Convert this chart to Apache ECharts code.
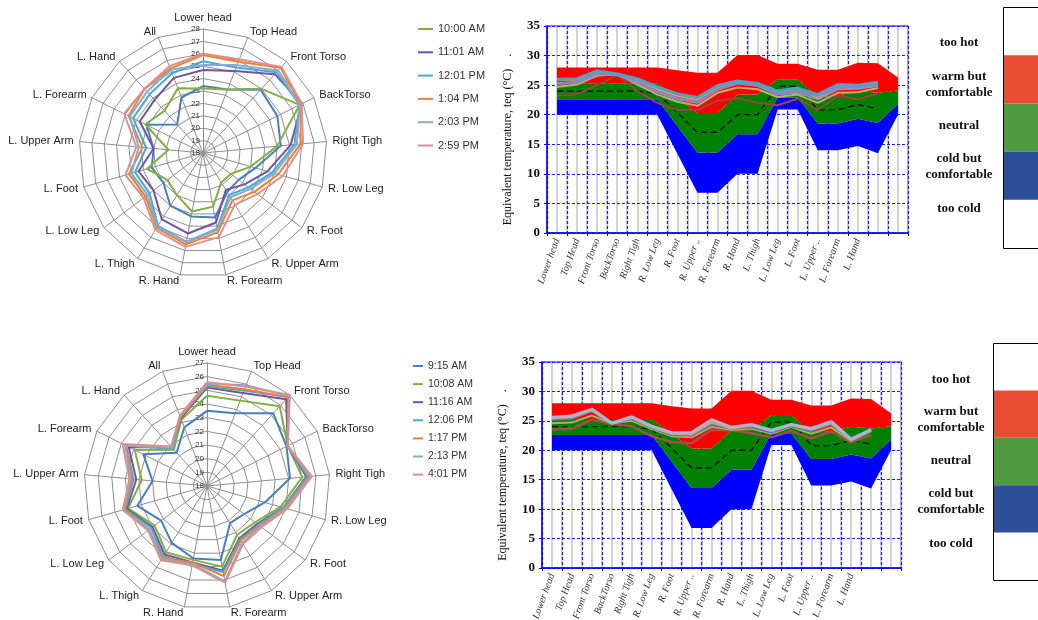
<!DOCTYPE html>
<html>
<head>
<meta charset="utf-8">
<script src="https://cdn.jsdelivr.net/npm/echarts@6/dist/echarts.min.js"></script>
<style>html,body{margin:0;padding:0;background:#fff}#c{width:1038px;height:620px}</style>
</head>
<body>
<div id="c"></div>
<script>
// ---------- data ----------
const bodyParts = ['Lower head','Top Head','Front Torso','BackTorso','Right Tigh','R. Low Leg','R. Foot','R. Upper Arm','R. Forearm','R. Hand','L. Thigh','L. Low Leg','L. Foot','L. Upper Arm','L. Forearm','L. Hand','All'];
const areaLabels = ['Lower head','Top Head','Front Torso','BackTorso','Right Tigh','R. Low Leg','R. Foot','R. Upper ..','R. Forearm','R. Hand','L. Thigh','L. Low Leg','L. Foot','L. Upper ..','L. Forearm','L. Hand','',''];
const radarTicksTop = [18, 28];
const radarTicksBottom = [18, 27];

// top set
const topNames = ['9:00 AM','10:00 AM','11:01 AM','12:01 PM','1:04 PM','2:03 PM','2:59 PM'];
const top0900 = [23.4, 23.5, 24.9, 24.7, 24.3, 22.4, 21.6, 21.7, 23.3, 23.2, 23.0, 22.0, 22.3, 22.0, 23.1, 21.1, 22.8];
const top1000 = [23.2, 23.5, 25.0, 26.7, 24.0, 22.0, 20.8, 20.8, 22.4, 22.8, 22.0, 21.6, 22.7, 20.8, 23.2, 22.6, 23.6];
const top1101 = [24.7, 25.1, 26.6, 26.9, 25.1, 23.4, 22.2, 21.5, 23.7, 24.6, 24.3, 23.0, 23.4, 22.0, 23.7, 23.8, 24.5];
const top1201 = [25.4, 25.4, 26.8, 26.7, 25.4, 23.8, 22.6, 22.0, 24.2, 25.3, 24.9, 23.4, 23.7, 22.6, 24.3, 24.4, 24.9];
const top0104 = [25.9, 25.9, 27.3, 26.8, 25.9, 24.3, 23.2, 22.5, 24.5, 25.5, 25.1, 23.8, 24.2, 22.9, 24.7, 25.0, 25.3];
const top0203 = [25.1, 25.6, 27.0, 26.7, 25.6, 24.0, 22.8, 22.2, 24.3, 25.3, 25.0, 23.6, 24.0, 23.2, 24.6, 24.7, 25.2];
const top0259 = [26.0, 26.1, 27.4, 26.9, 26.1, 24.7, 23.5, 22.9, 24.9, 25.7, 25.3, 24.0, 24.5, 23.4, 25.1, 25.0, 25.5];

// bottom set
const botNames = ['9:15 AM','10:08 AM','11:16 AM','12:06 PM','1:17 PM','2:13 PM','4:01 PM'];
const bot0915 = [23.5, 23.7, 25.2, 24.5, 24.1, 22.4, 21.4, 21.2, 23.5, 23.4, 22.9, 22.2, 23.3, 22.0, 23.2, 21.3, 22.6];
const bot1008 = [24.6, 24.7, 25.9, 24.6, 25.0, 23.6, 22.4, 22.2, 24.0, 23.5, 23.7, 22.8, 24.0, 22.8, 23.9, 21.6, 23.2];
const bot1116 = [25.2, 25.3, 26.6, 24.6, 25.3, 23.8, 22.6, 22.5, 24.3, 23.7, 23.9, 23.0, 24.1, 23.2, 24.4, 21.8, 23.3];
const bot1206 = [25.3, 25.5, 26.8, 24.6, 25.4, 23.8, 22.7, 22.6, 24.4, 23.8, 24.1, 23.1, 24.2, 23.4, 24.6, 21.7, 23.4];
const bot0117 = [25.4, 25.6, 26.8, 24.6, 25.5, 23.9, 22.8, 22.7, 24.7, 23.7, 24.2, 23.3, 24.3, 23.5, 24.6, 21.8, 23.4];
const bot0213 = [25.5, 25.9, 26.9, 24.6, 25.6, 24.0, 22.9, 22.9, 25.1, 23.8, 24.3, 23.3, 24.4, 23.6, 24.7, 21.8, 23.5];
const bot0401 = [25.6, 25.8, 27.0, 24.6, 25.7, 24.1, 23.0, 23.0, 25.2, 23.9, 24.4, 23.4, 24.4, 23.7, 24.9, 21.9, 23.5];

// comfort zone boundaries (18 points)
const coldLow     = [20, 20, 20, 20, 20, 20, 13.4, 6.8, 6.8, 10, 10, 20.9, 20.9, 14.0, 14.0, 14.7, 13.5, 20.0];
const neutralLow  = [22.6, 22.6, 22.6, 22.6, 22.6, 22.6, 18.1, 13.6, 13.6, 16.7, 16.7, 22.9, 22.9, 18.5, 18.5, 19.3, 18.6, 21.8];
const neutralHigh = [25.3, 25.3, 25.3, 25.3, 25.3, 25.3, 22.8, 20.3, 20.3, 23.4, 23.4, 26.0, 26.0, 23.0, 23.2, 24.0, 23.7, 24.1];
const warmHigh    = [28.0, 28.0, 28.0, 28.0, 28.0, 28.0, 27.5, 27.1, 27.1, 30.1, 30.1, 28.6, 28.6, 27.6, 27.6, 28.8, 28.7, 26.3];
const neutralMid  = [24.0, 24.0, 24.0, 24.0, 24.0, 23.6, 20.4, 17.0, 17.0, 20.0, 20.0, 24.8, 24.8, 20.8, 20.8, 21.7, 21.0];

const zoneLabels = ['too hot','warm but\ncomfortable','neutral','cold but\ncomfortable','too cold'];

// ---------- build ----------
const radarColors = ['#4A7EBB','#80B040','#7153A0','#40AECC','#F08030','#87A9D6','#DB9090'];
const topVals = [top0900, top1000, top1101, top1201, top0104, top0203, top0259];
const botVals = [bot0915, bot1008, bot1116, bot1206, bot0117, bot0213, bot0401];

// clockwise order from the top
const order = [0].concat(Array.from({length: bodyParts.length - 1}, (_, i) => bodyParts.length - 1 - i));
const reorder = v => order.map(i => v[i]);

function indicators(rng) {
  return order.map(i => ({name: bodyParts[i], min: rng[0], max: rng[1]}));
}
function radarCfg(center, radius, rng) {
  return {
    center: center, radius: radius, startAngle: 90, shape: 'polygon',
    splitNumber: rng[1] - rng[0],
    indicator: indicators(rng),
    nameGap: 6,
    axisName: {color: '#222', fontSize: 11, fontFamily: 'Liberation Sans'},
    splitLine: {lineStyle: {color: '#8f8f8f', width: 1}},
    splitArea: {show: false},
    axisLine: {lineStyle: {color: '#8f8f8f', width: 1}},
    axisTick: {show: false},
    axisLabel: {show: false}
  };
}
function radarSeries(idx, names, vals) {
  return {
    type: 'radar', radarIndex: idx, symbol: 'none', silent: true,
    data: names.map((n, j) => ({
      name: n, value: reorder(vals[j]),
      lineStyle: {color: radarColors[j], width: 2},
      itemStyle: {color: radarColors[j]}
    }))
  };
}

const diff = (a, b) => a.map((v, i) => +(v - b[i]).toFixed(2));
function zoneSeries(xi, yi, stackId) {
  const base = {type: 'line', xAxisIndex: xi, yAxisIndex: yi, stack: stackId, symbol: 'none', silent: true, lineStyle: {width: 0}, z: 2};
  return [
    Object.assign({}, base, {name: 'z-base' + stackId, data: coldLow}),
    Object.assign({}, base, {name: 'z-cold' + stackId, data: diff(neutralLow, coldLow), areaStyle: {color: '#0000FF', opacity: 1}}),
    Object.assign({}, base, {name: 'z-neutral' + stackId, data: diff(neutralHigh, neutralLow), areaStyle: {color: '#008000', opacity: 1}}),
    Object.assign({}, base, {name: 'z-warm' + stackId, data: diff(warmHigh, neutralHigh), areaStyle: {color: '#FF0000', opacity: 1}}),
    {type: 'line', name: 'z-mid' + stackId, xAxisIndex: xi, yAxisIndex: yi, data: neutralMid, symbol: 'none', silent: true, z: 3,
     lineStyle: {color: '#000', width: 1.2, type: [6, 4]}}
  ];
}
function lineSeries(xi, yi, names, vals, colors, widths) {
  return names.map((n, j) => ({
    type: 'line', name: 'line ' + n, xAxisIndex: xi, yAxisIndex: yi, data: vals[j], symbol: 'none', silent: true, z: 4,
    lineStyle: {color: colors[j], width: widths[j]}, itemStyle: {color: colors[j]}
  }));
}

const serif = 'Liberation Serif';
function mainX(gi) {
  return {
    type: 'category', gridIndex: gi, data: areaLabels, boundaryGap: true, z: 1,
    axisLine: {lineStyle: {color: '#0000FF', width: 1.5}},
    axisTick: {show: true, interval: 0, length: 3, lineStyle: {color: '#0000FF'}},
    axisLabel: {interval: 0, rotate: 70, margin: 6, fontSize: 10, fontStyle: 'italic', fontFamily: serif, color: '#333'},
    splitLine: {show: true, interval: 0, lineStyle: {color: '#1a1aff', width: 1.2, type: [3, 2]}}
  };
}
function greyX(gi) {
  return {
    type: 'category', gridIndex: gi, data: Array.from({length: 36}, (_, i) => String(i)), boundaryGap: true, z: 0,
    position: 'bottom',
    axisLine: {show: false}, axisTick: {show: false}, axisLabel: {show: false},
    splitLine: {show: true, interval: 0, lineStyle: {color: '#c8c8c8', width: 1.6}}
  };
}
function mainY(gi, nameStr) {
  return {
    type: 'value', gridIndex: gi, min: 0, max: 35, interval: 5, z: 1,
    name: nameStr, nameLocation: 'middle', nameGap: 33,
    nameTextStyle: {fontFamily: serif, fontSize: 12, color: '#111', padding: [0, 20, 0, 0]},
    axisLine: {show: true, lineStyle: {color: '#0000FF', width: 1.5}},
    axisTick: {show: true, length: 3, lineStyle: {color: '#0000FF'}},
    axisLabel: {fontFamily: serif, fontWeight: 'bold', fontSize: 13, color: '#111', margin: 7},
    splitLine: {show: true, lineStyle: {color: '#1a1aff', width: 1.2, type: [3, 2]}}
  };
}
function tickY(gi, rng) {
  return {
    type: 'value', gridIndex: gi, min: rng[0], max: rng[1], interval: 1,
    axisLine: {show: false}, axisTick: {show: false}, splitLine: {show: false},
    axisLabel: {fontSize: 8, color: '#333', margin: 3, fontFamily: 'Liberation Sans'}
  };
}

const yName = 'Equivalent temperature, teq (°C)    .';

const option = {
  animation: false,
  backgroundColor: '#fff',
  radar: [radarCfg([203, 153], 124, radarTicksTop), radarCfg([207, 486], 123, radarTicksBottom)],
  grid: [
    {left: 203, top: 29, width: 1, height: 124, outerBoundsMode: 'none'},
    {left: 207, top: 363, width: 1, height: 123, outerBoundsMode: 'none'},
    {left: 547, top: 26, width: 361, height: 207, show: true, borderColor: '#0000FF', borderWidth: 1.2, backgroundColor: 'transparent', outerBoundsMode: 'none'},
    {left: 542, top: 362, width: 359, height: 206, show: true, borderColor: '#0000FF', borderWidth: 1.2, backgroundColor: 'transparent', outerBoundsMode: 'none'}
  ],
  xAxis: [
    {type: 'value', gridIndex: 0, show: false},
    {type: 'value', gridIndex: 1, show: false},
    mainX(2), greyX(2), mainX(3), greyX(3)
  ],
  yAxis: [tickY(0, radarTicksTop), tickY(1, radarTicksBottom), mainY(2, yName), mainY(3, yName)],
  legend: [
    {orient: 'vertical', left: 413, top: 17, data: topNames.slice(1), icon: 'rect', itemWidth: 15, itemHeight: 2, itemGap: 9.3,
     textStyle: {fontSize: 11, lineHeight: 14, color: '#333', fontFamily: 'Liberation Sans'}, selectedMode: false},
    {orient: 'vertical', left: 408, top: 355, data: botNames, icon: 'rect', itemWidth: 10, itemHeight: 2, itemGap: 6.1,
     textStyle: {fontSize: 10.5, lineHeight: 12, color: '#333', fontFamily: 'Liberation Sans'}, selectedMode: false}
  ],
  series: [
    radarSeries(0, topNames, topVals),
    radarSeries(1, botNames, botVals)
  ]
  .concat(zoneSeries(2, 2, 'top'))
  .concat(lineSeries(2, 2, topNames.slice(1), topVals.slice(1),
      ['#9B4543','#C9A96A','#7F9CCB','#F39A4B','#9184BC','#4FA2C4'], [2, 2, 2, 2, 2.5, 3]))
  .concat(zoneSeries(4, 3, 'bot'))
  .concat(lineSeries(4, 3, botNames, botVals,
      ['#A04F4C','#9BBB59','#8064A2','#4F81BD','#F79646','#D99694','#A6B7D4'], [2.5, 2, 2, 2, 2, 2.5, 3])),
  graphic: []
};

// right-hand comfort legends
function comfortBox(x0, y0, h, labelX, labelYs) {
  const els = [];
  const seg = h / 5;
  const cols = [null, '#E94B33', '#4E9B42', '#2E4E9A', null];
  cols.forEach((c, i) => {
    if (c) els.push({type: 'rect', shape: {x: x0 + 1, y: y0 + seg * i, width: 60, height: seg}, style: {fill: c}, silent: true});
  });
  els.push({type: 'rect', shape: {x: x0 + 0.5, y: y0 + 0.5, width: 80, height: h}, style: {fill: 'none', stroke: '#000', lineWidth: 1}, silent: true});
  zoneLabels.forEach((t, i) => {
    els.push({type: 'text', silent: true, style: {text: t, x: labelX, y: labelYs[i], align: 'center', verticalAlign: 'middle',
      font: 'bold 13px "Liberation Serif"', fill: '#111', lineHeight: 16}});
  });
  return els;
}
option.graphic = comfortBox(1003, 7, 241, 959, [43, 85, 126, 167, 209])
  .concat(comfortBox(993, 343, 237, 951, [380, 420, 461, 502, 544]));

const chart = echarts.init(document.getElementById('c'), null, {renderer: 'canvas'});
chart.setOption(option);
</script>
</body>
</html>
